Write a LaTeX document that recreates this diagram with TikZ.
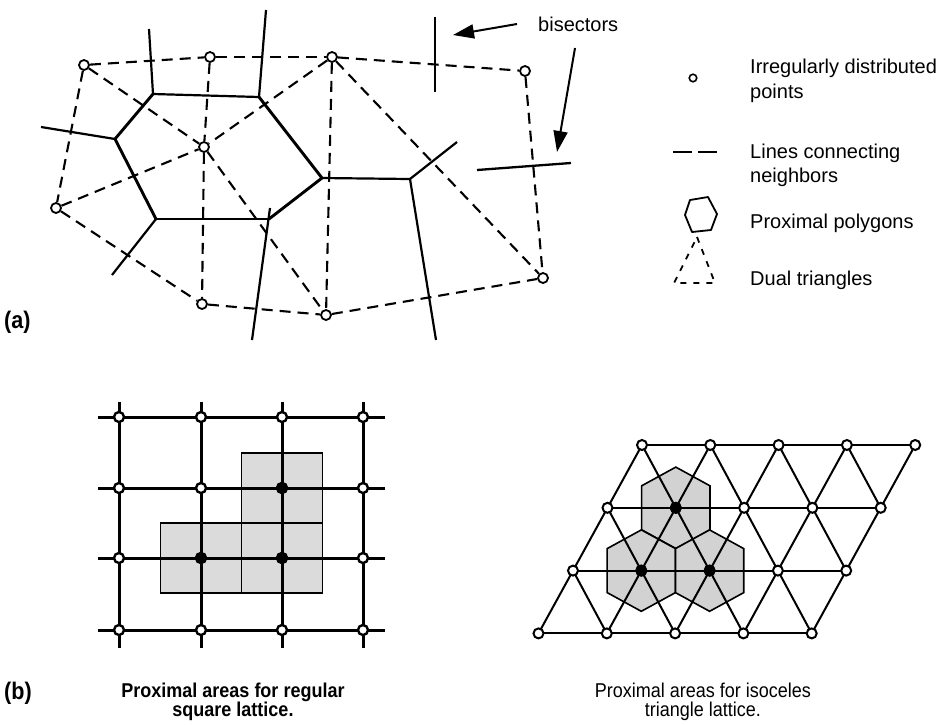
\documentclass[tikz,border=0pt]{standalone}
\usepackage{fontspec}
\setmainfont{Liberation Sans}
\newfontfamily\capfont[FakeStretch=0.9]{Liberation Sans}
\usetikzlibrary{arrows.meta}
\begin{document}
\begin{tikzpicture}[x=1pt,y=-1pt,
  dpt/.style={circle,draw,fill=white,inner sep=0pt,minimum size=10pt,line width=1.8pt},
  nbr/.style={line width=2.1pt,dash pattern=on 11pt off 7pt},
  vor/.style={line width=2.2pt},
  vorhex/.style={line width=2.9pt},
  bis/.style={line width=2.3pt},
  pointer/.style={line width=2pt,-{Triangle[length=21pt,width=14pt]}},
  lbl/.style={font=\fontsize{20}{24}\selectfont,inner sep=0pt},
  caplbl/.style={font=\capfont\fontsize{20}{24}\selectfont,inner sep=0pt,anchor=base},
  tag/.style={font=\capfont\bfseries\fontsize{24}{28}\selectfont,inner sep=0pt,anchor=base west},
  lat/.style={line width=3pt},
  lpt/.style={circle,draw,fill=white,inner sep=0pt,minimum size=10pt,line width=2.4pt},
  lptc/.style={circle,draw,fill=black,inner sep=0pt,minimum size=11pt,line width=1pt},
  tri/.style={line width=2pt,shorten <=-5pt,shorten >=-5pt},
  tpt/.style={circle,draw,fill=white,inner sep=0pt,minimum size=10pt,line width=2pt},
  tptc/.style={circle,draw,fill=black,inner sep=0pt,minimum size=11pt,line width=1pt},
  area/.style={fill=gray!28,draw=black,line width=1.6pt},
  hexarea/.style={fill=gray!35,draw=black,line width=1.6pt}
]
\useasboundingbox[fill=white] (0,0) rectangle (943,724);

%% ---------------- (a) ----------------
% Voronoi vertices and ray ends
\coordinate (V1) at (153,94);
\coordinate (V2) at (259,97);
\coordinate (V3) at (322,178);
\coordinate (V4) at (269,219);
\coordinate (V5) at (156,219);
\coordinate (V6) at (115,139);
\coordinate (V7) at (410,179);
\coordinate (R1) at (149,29);
\coordinate (R2) at (266,10);
\coordinate (R6) at (41,127);
\coordinate (R5) at (112,275);
\coordinate (R4a) at (252,340);
\coordinate (R4b) at (270,208);
\coordinate (R7a) at (457,142);
\coordinate (R7b) at (436,340);

% proximal polygon (hexagon)
\draw[vorhex,line cap=round] (V6) -- (V5);
\draw[vorhex,line cap=round] (V1) -- (V6);
\draw[vorhex,line cap=round] (V2) -- (V3) -- (V4);
\draw[vor] (V1) -- (V2);
\draw[vor] (V5) -- (V4);
% other Voronoi edges
\draw[vor] (V1) -- (R1);
\draw[vor] (V2) -- (R2);
\draw[vor] (V6) -- (R6);
\draw[vor] (V5) -- (R5);
\draw[vor] (R4b) -- (R4a);
\draw[vor] (V3) -- (V7);
\draw[vor] (V7) -- (R7a);
\draw[vor] (V7) -- (R7b);

% isolated bisectors
\coordinate (B1t) at (435,17);
\coordinate (B1b) at (435,92);
\coordinate (B2l) at (477,170);
\coordinate (B2r) at (571,163);
\draw[bis] (B1t) -- (B1b);
\draw[bis] (B2l) -- (B2r);

% points
\node[dpt] (A) at (84,65) {};
\node[dpt] (B) at (210,57) {};
\node[dpt] (C) at (332,57) {};
\node[dpt] (D) at (525,71) {};
\node[dpt] (E) at (204,147) {};
\node[dpt] (F) at (56,208) {};
\node[dpt] (G) at (202,304) {};
\node[dpt] (H) at (326,315) {};
\node[dpt] (I) at (543,278) {};

\foreach \u/\v in {A/B,B/C,C/D,A/F,A/E,B/E,C/E,F/E,E/G,E/H,F/G,G/H,C/H,C/I,D/I,H/I}
  \draw[nbr] (\u) -- (\v);

% bisectors label and arrows
\node[lbl,anchor=base west] (bisl) at (538,31) {bisectors};
\coordinate (a1t) at (517,24);
\coordinate (a1h) at (453,35);
\coordinate (a2t) at (575,48);
\coordinate (a2h) at (557,152);
\draw[pointer] (a1t) -- (a1h);
\draw[pointer] (a2t) -- (a2h);

% legend
\node[circle,draw,fill=white,inner sep=0pt,minimum size=7.5pt,line width=1.6pt] (lg1) at (693,78) {};
\node[lbl,anchor=base west] (lt1a) at (750,73) {Irregularly distributed};
\node[lbl,anchor=base west] (lt1b) at (750,98) {points};
\coordinate (lg2a) at (673,152);
\coordinate (lg2b) at (717,152);
\draw[line width=1.7pt,dash pattern=on 19pt off 6pt] (lg2a) -- (lg2b);
\node[lbl,anchor=base west] (lt2a) at (750,158) {Lines connecting};
\node[lbl,anchor=base west] (lt2b) at (750,182) {neighbors};
\draw[line width=1.8pt,line join=round] (690,200) -- (708,197) -- (717,214) -- (711,230) -- (692,232) -- (685,215) -- cycle;
\node[lbl,anchor=base west] (lt3) at (750,228) {Proximal polygons};
\draw[line width=1.8pt,dash pattern=on 6pt off 7pt] (697,237) -- (715,283) -- (674,283) -- cycle;
\node[lbl,anchor=base west] (lt4) at (750,285) {Dual triangles};

\node[tag] (taga) at (4,328) {(a)};

%% ---------------- (b) square lattice ----------------
\path[area] (160.5,523) rectangle (241.5,593);
\path[area] (241.5,523) rectangle (322.5,593);
\path[area] (241.5,453) rectangle (322.5,523);
\foreach \x [count=\i] in {119,201,282,363} {
  \coordinate (sqT\i) at (\x,402);
  \coordinate (sqB\i) at (\x,648);
  \draw[lat] (sqT\i) -- (sqB\i);
}
\foreach \y [count=\j] in {417,488,558,630} {
  \coordinate (sqL\j) at (98,\y);
  \coordinate (sqR\j) at (385,\y);
  \draw[lat] (sqL\j) -- (sqR\j);
}
\foreach \x [count=\i] in {119,201,282,363}
  \foreach \y [count=\j] in {417,488,558,630}
    \node[lpt] (s\i\j) at (\x,\y) {};
\node[lptc] (sc1) at (201,558) {};
\node[lptc] (sc2) at (282,488) {};
\node[lptc] (sc3) at (282,558) {};

%% ---------------- (b) triangle lattice ----------------
\foreach \r in {0,...,3}
  \foreach \c in {0,...,4}
    \coordinate (t\r\c) at ({642+68.3*\c-34.5*\r},{445+62.8*\r});
\foreach \p in {t11,t21,t22}
  \path[hexarea] (\p) ++(0,-40.7) -- ++(34.15,18.7) -- ++(0,44) -- ++(-34.15,18.7)
     -- ++(-34.15,-18.7) -- ++(0,-44) -- cycle;
\foreach \r in {0,...,3} \draw[tri] (t\r0) -- (t\r4);
\foreach \c in {0,...,4} \draw[tri] (t3\c) -- (t0\c);
\foreach \u/\v in {t20/t31,t10/t32,t00/t33,t01/t34,t02/t24,t03/t14}
  \draw[tri] (\u) -- (\v);
\foreach \r in {0,...,3}
  \foreach \c in {0,...,4}
    \node[tpt] (tp\r\c) at (t\r\c) {};
\node[tptc] (tc1) at (t11) {};
\node[tptc] (tc2) at (t21) {};
\node[tptc] (tc3) at (t22) {};

%% captions
\node[tag] (tagb) at (4,699) {(b)};
\node[caplbl,font=\capfont\bfseries\fontsize{20}{24}\selectfont] (cap1a) at (233,697) {Proximal areas for regular};
\node[caplbl,font=\capfont\bfseries\fontsize{20}{24}\selectfont] (cap1b) at (233,716) {square lattice.};
\node[caplbl] (cap2a) at (703,697) {Proximal areas for isoceles};
\node[caplbl] (cap2b) at (703,716) {triangle lattice.};
\end{tikzpicture}
\end{document}
